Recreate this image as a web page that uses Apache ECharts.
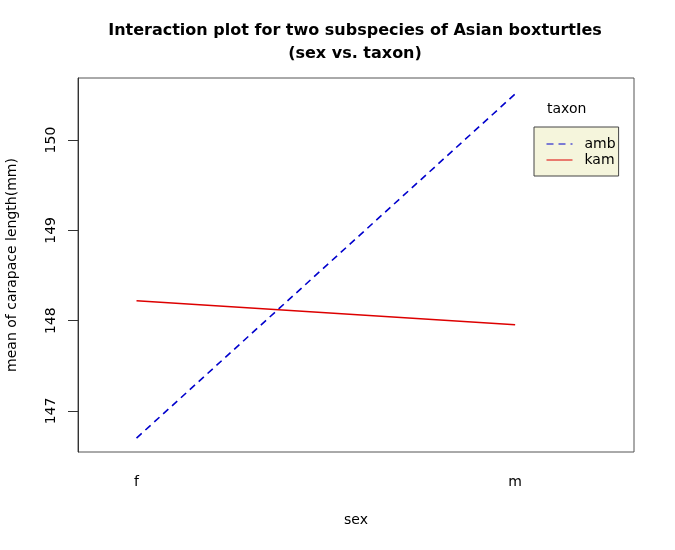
<!DOCTYPE html>
<html>
<head>
<meta charset="utf-8">
<script src="https://cdn.jsdelivr.net/npm/echarts@6/dist/echarts.min.js"></script>
<style>html,body{margin:0;padding:0;background:#fff}#c{width:675px;height:550px}</style>
</head>
<body>
<div id="c"></div>
<script>
var categories = ['f', 'm'];
var ambValues = [146.70, 150.51];
var kamValues = [148.22, 147.955];
var yTicks = [147, 148, 149, 150];
var xTicks = [1, 2];

var FONT = '"DejaVu Sans", "Liberation Sans", Arial, sans-serif';
var chart = echarts.init(document.getElementById('c'), null, {renderer: 'canvas'});
function pts(vals) { return vals.map(function (v, i) { return [i + 1, v]; }); }

chart.setOption({
  animation: false,
  backgroundColor: '#ffffff',
  title: {
    text: 'Interaction plot for two subspecies of Asian boxturtles\n(sex vs. taxon)',
    left: 350, top: 14, textAlign: 'center',
    textStyle: {fontFamily: FONT, fontSize: 16, fontWeight: 'bold', color: '#000', lineHeight: 23}
  },
  grid: {left: 78, right: 41, top: 78, bottom: 98, outerBoundsMode: 'none', containLabel: false,
    show: true, borderColor: '#555', borderWidth: 1, backgroundColor: 'transparent'},
  xAxis: {
    type: 'value', min: 0.8454, max: 2.314,
    name: 'sex', nameLocation: 'middle', nameGap: 61,
    nameTextStyle: {fontFamily: FONT, fontSize: 14, color: '#000'},
    axisLine: {show: false},
    axisTick: {show: false},
    splitLine: {show: false},
    axisLabel: {
      customValues: xTicks, margin: 23,
      fontFamily: FONT, fontSize: 14, color: '#000',
      formatter: function (v) { return categories[Math.round(v) - 1] || ''; }
    }
  },
  yAxis: {
    type: 'value', min: 146.546, max: 150.687,
    name: 'mean of carapace length(mm)', nameLocation: 'middle', nameGap: 59,
    nameTextStyle: {fontFamily: FONT, fontSize: 14, color: '#000'},
    axisLine: {show: true, lineStyle: {color: '#333', width: 1}},
    axisTick: {show: true, customValues: yTicks, length: 10, lineStyle: {color: '#333'}},
    splitLine: {show: false},
    axisLabel: {
      customValues: yTicks, rotate: 90, margin: 20,
      fontFamily: FONT, fontSize: 14, color: '#000'
    }
  },
  legend: {
    orient: 'vertical', left: 534, top: 127,
    padding: [10, 3, 9, 12],
    itemWidth: 26, itemHeight: 12, itemGap: 2,
    backgroundColor: '#f5f5dc', borderColor: '#444', borderWidth: 1,
    itemStyle: {opacity: 0},
    lineStyle: {width: 1},
    textStyle: {fontFamily: FONT, fontSize: 14, color: '#000', padding: [0, 0, 0, 7], lineHeight: 14},
    data: ['amb', 'kam']
  },
  graphic: [{
    type: 'text', left: 547, top: 102,
    style: {text: 'taxon', font: '14px ' + FONT, fill: '#000'}
  }],
  series: [
    {name: 'amb', type: 'line', data: pts(ambValues), symbol: 'none',
      lineStyle: {color: '#0000cc', width: 1.6, type: [7, 5]}, itemStyle: {color: '#0000cc'}},
    {name: 'kam', type: 'line', data: pts(kamValues), symbol: 'none',
      lineStyle: {color: '#dd0000', width: 1.6}, itemStyle: {color: '#dd0000'}}
  ]
});
</script>
</body>
</html>
